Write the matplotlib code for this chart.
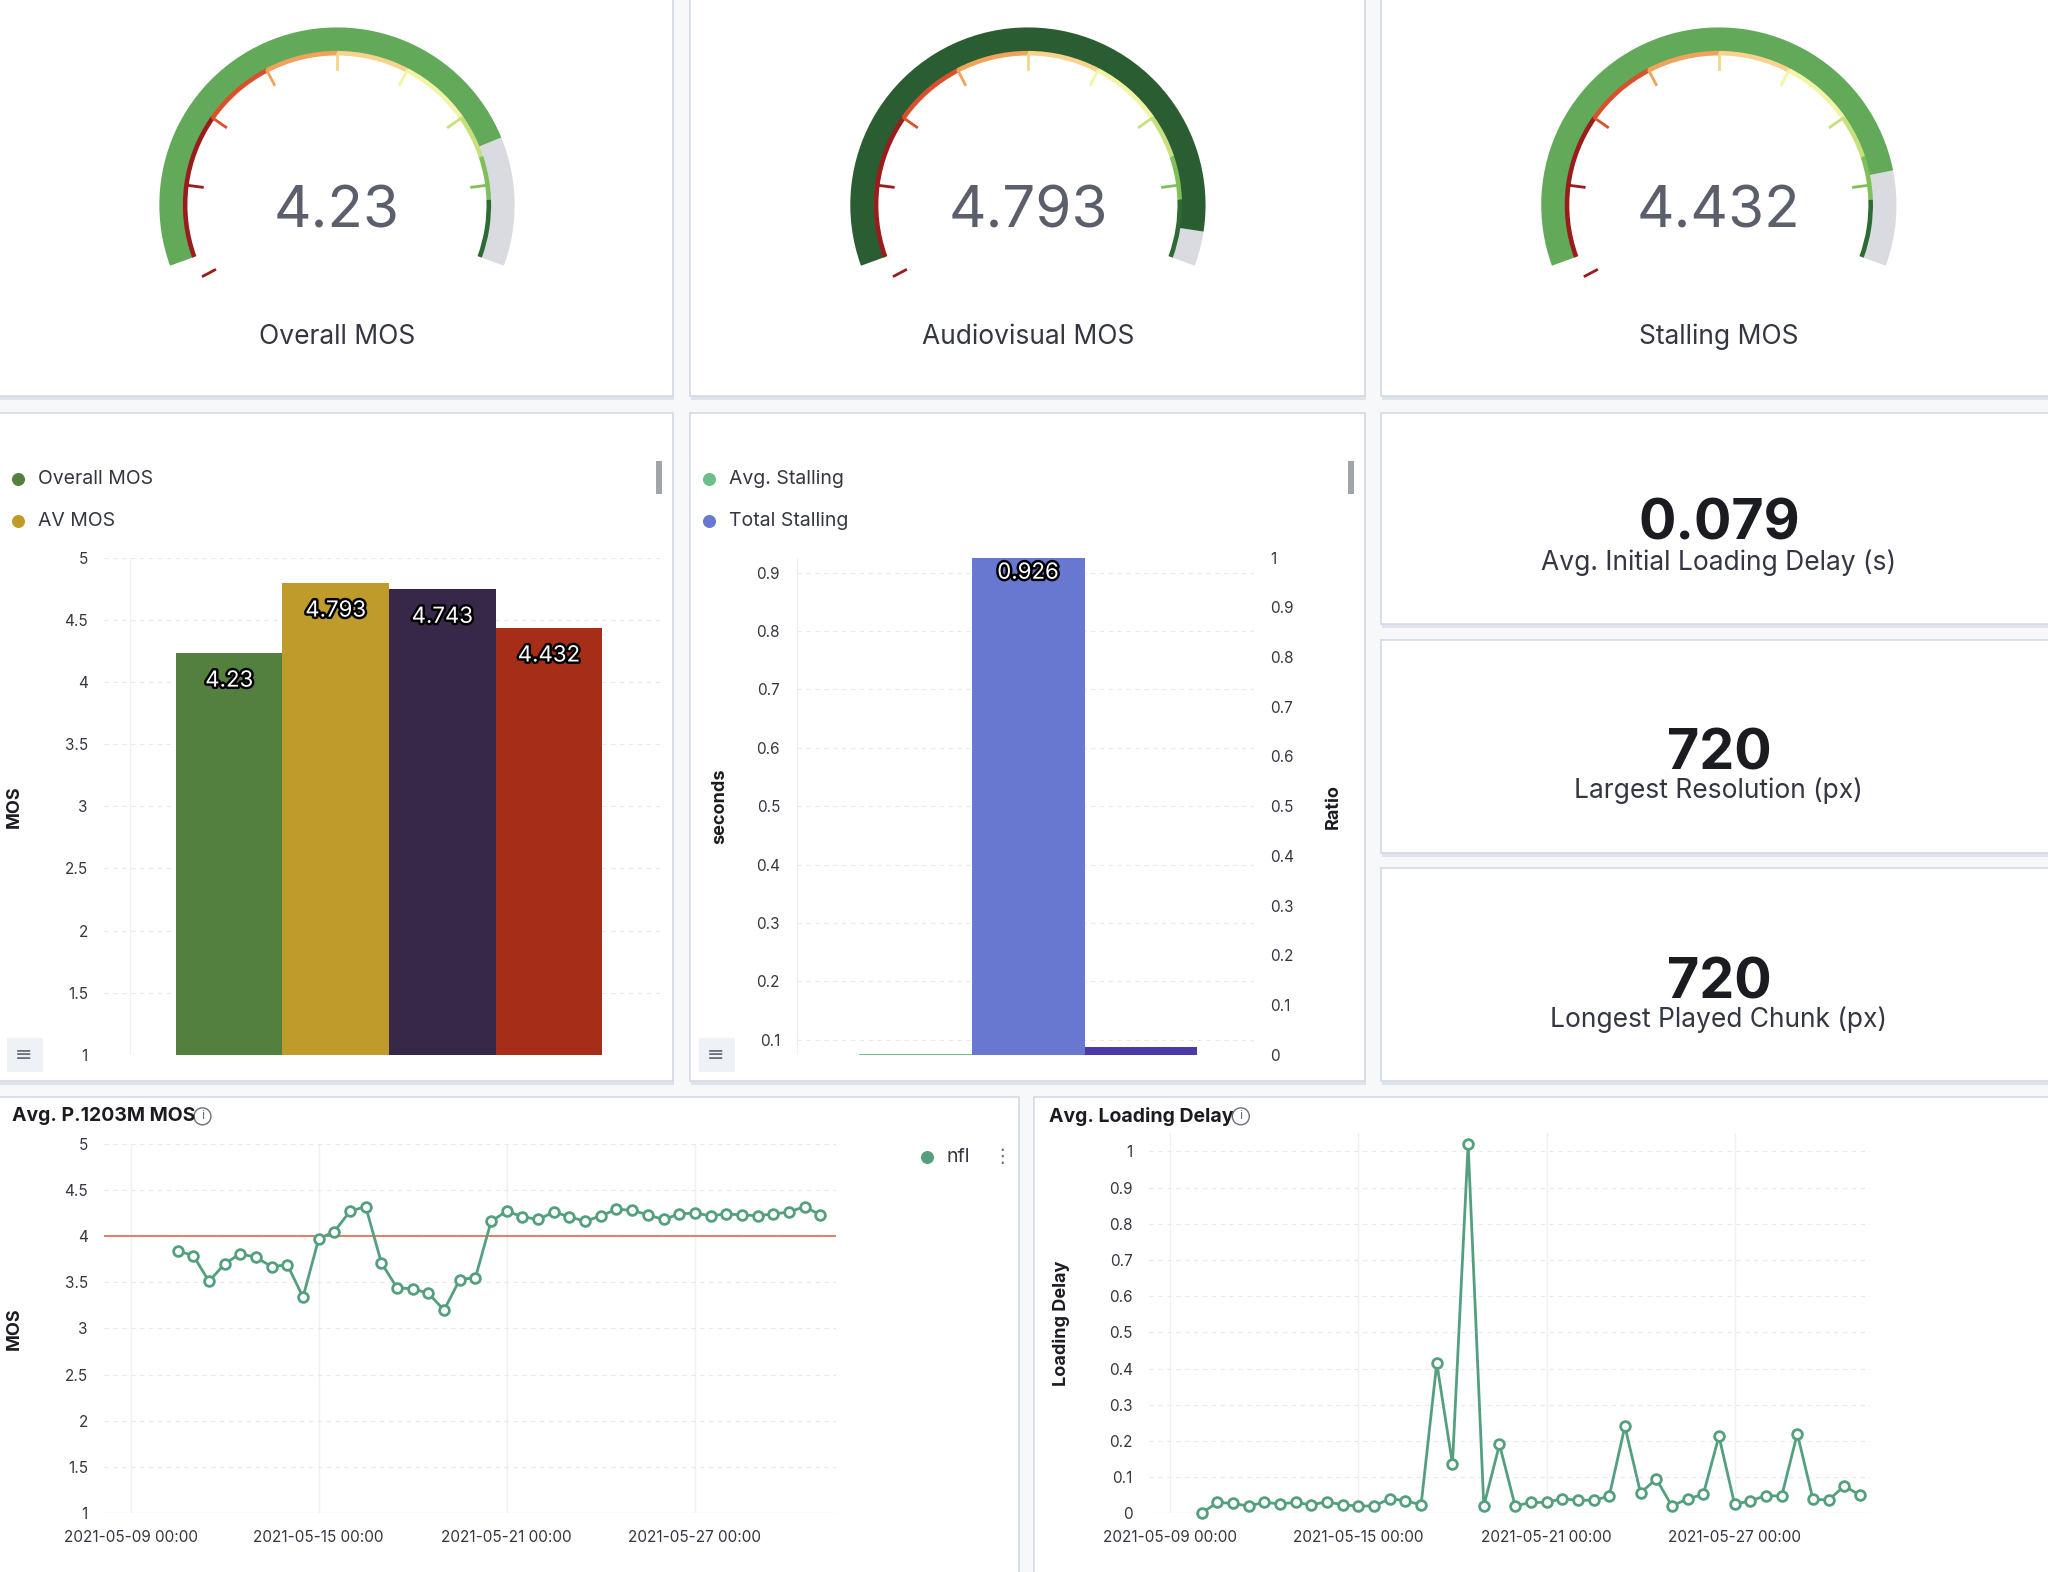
import numpy as np
import matplotlib.pyplot as plt
import matplotlib.patheffects as pe
from matplotlib.patches import Wedge, Rectangle, Circle

# ---- data ----
gauge_titles = ["Overall MOS", "Audiovisual MOS", "Stalling MOS"]
gauge_values = [4.23, 4.793, 4.432]
gauge_labels = ["4.23", "4.793", "4.432"]

mos_bar_values = [4.23, 4.793, 4.743, 4.432]
mos_bar_labels = ["4.23", "4.793", "4.743", "4.432"]
mos_bar_colors = ["#54803f", "#bf9b2b", "#372748", "#a62d17"]

total_stalling_s = 0.926
stall_ratio = 0.016
avg_stalling = 0.002

kpi_values = ["0.079", "720", "720"]
kpi_labels = ["Avg. Initial Loading Delay (s)", "Largest Resolution (px)", "Longest Played Chunk (px)"]

date_ticks = [0, 6, 12, 18]
date_labels = ["2021-05-09 00:00", "2021-05-15 00:00", "2021-05-21 00:00", "2021-05-27 00:00"]

# days since 2021-05-09, 12h steps
mos_days = np.arange(1.5, 22.01, 0.5)
mos_values = [3.84, 3.79, 3.51, 3.70, 3.81, 3.77, 3.67, 3.69, 3.34, 3.97, 4.05, 4.27,
              4.32, 3.71, 3.44, 3.43, 3.38, 3.20, 3.53, 3.55, 4.16, 4.27, 4.21, 4.18,
              4.26, 4.21, 4.16, 4.22, 4.29, 4.28, 4.23, 4.18, 4.24, 4.25, 4.22, 4.24,
              4.23, 4.22, 4.24, 4.26, 4.32, 4.23]
delay_days = np.arange(1.0, 22.01, 0.5)
delay_values = [0.0, 0.03, 0.027, 0.02, 0.03, 0.026, 0.03, 0.023, 0.032, 0.023, 0.02, 0.02,
                0.04, 0.035, 0.023, 0.415, 0.136, 1.02, 0.02, 0.19, 0.02, 0.03, 0.03, 0.04,
                0.036, 0.036, 0.047, 0.24, 0.056, 0.095, 0.02, 0.04, 0.052, 0.213, 0.025,
                0.034, 0.049, 0.047, 0.22, 0.038, 0.037, 0.075, 0.05]

plt.rcParams['font.family'] = ['Inter', 'DejaVu Sans']
W, H = 1568, 1204
fig = plt.figure(figsize=(20.48, 15.72), dpi=100)
fig.patch.set_facecolor("#f7f8fa")
base = fig.add_axes([0, 0, 1, 1])
base.set_xlim(0, W)
base.set_ylim(0, H)
base.axis("off")

def Y(y):
    return H - y

def panel(x0, y0, x1, y1):
    base.add_patch(Rectangle((x0 + 1, Y(y1) - 3), x1 - x0, y1 - y0, color="#dfe3ea", lw=0))
    base.add_patch(Rectangle((x0, Y(y1)), x1 - x0, y1 - y0, facecolor="white",
                             edgecolor="#d3dae6", lw=1.2))

def rect(x0, y0, x1, y1):
    return [x0 / W, 1 - y1 / H, (x1 - x0) / W, (y1 - y0) / H]

panels = [(-5, -5, 515, 303), (528, -5, 1045, 303), (1057, -5, 1575, 303),
          (-5, 316, 515, 828), (528, 316, 1045, 828),
          (1057, 316, 1575, 478), (1057, 490, 1575, 653), (1057, 665, 1575, 828),
          (-5, 840, 780, 1210), (792, 840, 1575, 1210)]
for p in panels:
    panel(*p)

# ---- gauges ----
ring = [(1, 2, "#9b1c1c"), (2, 2.5, "#d9512c"), (2.5, 3, "#f0a35a"), (3, 3.5, "#f7d38e"),
        (3.5, 4, "#f4f4a6"), (4, 4.3, "#c8e07c"), (4.3, 4.6, "#7fbf5a"), (4.6, 5, "#2e6b34")]
fill_colors = ["#62a95a", "#2b5d32", "#62a95a"]

def ang(v):
    return 200 - (v - 1) / 4 * 220

centers = [258, 787, 1316]
for cx, val, lab, title, fc in zip(centers, gauge_values, gauge_labels, gauge_titles, fill_colors):
    cy = Y(157)
    base.add_patch(Wedge((cx, cy), 136, ang(5), ang(val), width=20, color="#d9dbe0", lw=0))
    base.add_patch(Wedge((cx, cy), 136, ang(val), ang(1), width=20, color=fc, lw=0))
    for a, b, c in ring:
        base.add_patch(Wedge((cx, cy), 118, ang(b), ang(a), width=3.5, color=c, lw=0))
    for t in np.arange(1.5, 5.0, 0.5):
        c = [r[2] for r in ring if r[0] <= t < r[1]][0]
        th = np.radians(ang(t))
        base.plot([cx + 116 * np.cos(th), cx + 104 * np.cos(th)],
                  [cy + 116 * np.sin(th), cy + 104 * np.sin(th)], color=c, lw=2)
    th = np.radians(ang(1) + 8)
    base.plot([cx + 116 * np.cos(th), cx + 106 * np.cos(th)],
              [cy + 116 * np.sin(th), cy + 106 * np.sin(th)], color="#9b1c1c", lw=2)
    base.text(cx, cy - 6, lab, ha="center", va="center", fontsize=42, color="#5a5f6b")
    base.text(cx, Y(258), title, ha="center", va="center", fontsize=19, color="#343741")

# ---- KPI boxes ----
for (yv, yl), v, l in zip([(402, 431), (578, 606), (753, 781)], kpi_values, kpi_labels):
    base.text(1316, Y(yv), v, ha="center", va="center", fontsize=40, weight="bold", color="#1a1c21")
    base.text(1316, Y(yl), l, ha="center", va="center", fontsize=19, color="#343741")

def legend_dot(x, y, color, text, fs=14):
    base.scatter([x], [Y(y)], s=70, color=color, zorder=5)
    base.text(x + 15, Y(y), text, va="center", fontsize=fs, color="#343741")

legend_dot(14, 367, "#54803f", "Overall MOS")
legend_dot(14, 399, "#bf9b2b", "AV MOS")
legend_dot(543, 367, "#6dbf8a", "Avg. Stalling")
legend_dot(543, 399, "#6878d0", "Total Stalling")
for x in (505, 1035):
    base.add_patch(Rectangle((x - 3, Y(378)), 5, 25, color="#a0a4ab", lw=0))
for x in (18, 548):
    base.add_patch(Rectangle((x - 13, Y(821)), 28, 26, color="#eef1f6", lw=0))
    base.text(x, Y(808), "\u2261", ha="center", va="center", fontsize=15, color="#69707d")

tick_kw = dict(labelsize=11, colors="#343741", length=0)

def style(ax):
    for s in ax.spines.values():
        s.set_visible(False)
    ax.set_facecolor("none")

label_fx = [pe.withStroke(linewidth=3.5, foreground="black")]

# ---- MOS bar chart ----
ax1 = fig.add_axes(rect(80, 427, 505, 808))
style(ax1)
xs = np.arange(len(mos_bar_values))
ax1.bar(xs, np.array(mos_bar_values) - 1, bottom=1, width=1.0, color=mos_bar_colors)
for x, v, l in zip(xs, mos_bar_values, mos_bar_labels):
    ax1.text(x, v - 0.22, l, ha="center", va="center", fontsize=16, color="white",
             path_effects=label_fx)
ax1.set_xlim(-1.17, 4.04)
ax1.set_ylim(1, 5)
ax1.set_yticks(np.arange(1, 5.01, 0.5), ["1", "1.5", "2", "2.5", "3", "3.5", "4", "4.5", "5"])
ax1.set_xticks([])
ax1.tick_params(axis="y", pad=12, **tick_kw)
ax1.grid(axis="y", color="#e6e9ef", ls=(0, (4, 4)), lw=0.8)
ax1.axvline(-0.93, color="#eef0f3", lw=1)
ax1.set_axisbelow(True)
ax1.set_ylabel("MOS", fontsize=13, weight="bold", color="#1a1c21", labelpad=30)

# ---- stalling chart ----
ax2 = fig.add_axes(rect(610, 427, 960, 808))
style(ax2)
ax2.bar([0], [total_stalling_s], width=1.0, color="#6878d0", zorder=3)
ax2.text(0, 0.9, "0.926", ha="center", va="center", fontsize=16, color="white", zorder=4,
         path_effects=label_fx)
ax2.set_xlim(-2.05, 2.0)
ax2.set_ylim(0.074, 0.926)
ax2.set_yticks(np.arange(0.1, 0.91, 0.1), ["0.1", "0.2", "0.3", "0.4", "0.5", "0.6", "0.7", "0.8", "0.9"])
ax2.set_xticks([])
ax2.tick_params(axis="y", pad=12, **tick_kw)
ax2.grid(axis="y", color="#e6e9ef", ls=(0, (4, 4)), lw=0.8)
ax2.axvline(-2.05, color="#eef0f3", lw=1)
ax2.set_ylabel("seconds", fontsize=13, weight="bold", color="#1a1c21", labelpad=20)
ax2r = ax2.twinx()
style(ax2r)
ax2r.bar([1], [stall_ratio], width=1.0, color="#4a3aa8")
ax2r.bar([-1], [avg_stalling], width=1.0, color="#6dbf8a")
ax2r.set_ylim(0, 1)
ax2r.set_yticks(np.arange(0, 1.01, 0.1), ["0", "0.1", "0.2", "0.3", "0.4", "0.5", "0.6", "0.7", "0.8", "0.9", "1"])
ax2r.tick_params(axis="y", pad=12, **tick_kw)
ax2r.axvline(2.0, color="#eef0f3", lw=1)
ax2r.set_ylabel("Ratio", fontsize=13, weight="bold", color="#1a1c21", labelpad=22)

# ---- bottom line charts ----
green = "#54a07e"

def info_icon(x, y):
    base.add_patch(Circle((x, Y(y)), 6.5, facecolor="white", edgecolor="#69707d", lw=1))
    base.text(x, Y(y), "i", ha="center", va="center", fontsize=9, color="#69707d")

base.text(9, Y(855), "Avg. P.1203M MOS", va="center", fontsize=14, weight="bold", color="#1a1c21")
info_icon(155, 855)
base.text(803, Y(855), "Avg. Loading Delay", va="center", fontsize=14, weight="bold", color="#1a1c21")
info_icon(950, 855)
legend_dot(710, 886, green, "nfl")
base.text(767, Y(886), "\u22ee", ha="center", va="center", fontsize=14, color="#69707d")

ax3 = fig.add_axes(rect(80, 876, 640, 1159))
style(ax3)
ax3.plot(mos_days, mos_values, color=green, lw=2, marker="o", ms=7, mfc="white", mew=2, zorder=4)
ax3.axhline(4, color="#e7664c", lw=1.2, zorder=3)
ax3.set_xlim(-20 / 24, 22.5)
ax3.set_ylim(1, 5)
ax3.set_yticks(np.arange(1, 5.01, 0.5), ["1", "1.5", "2", "2.5", "3", "3.5", "4", "4.5", "5"])
ax3.set_xticks(date_ticks, date_labels)
ax3.tick_params(axis="both", pad=12, **tick_kw)
ax3.grid(axis="y", color="#e6e9ef", ls=(0, (4, 4)), lw=0.8)
ax3.grid(axis="x", color="#eef0f3", lw=1)
ax3.axhline(1, color="#eef0f3", lw=1)
ax3.set_ylabel("MOS", fontsize=13, weight="bold", color="#1a1c21", labelpad=30)

ax4 = fig.add_axes(rect(880, 868, 1432, 1159))
style(ax4)
ax4.plot(delay_days, delay_values, color=green, lw=2, marker="o", ms=7, mfc="white", mew=2, zorder=4, clip_on=False)
ax4.set_xlim(-16 / 24, 22.33)
ax4.set_ylim(0, 1.05)
ax4.set_yticks(np.arange(0, 1.01, 0.1), ["0", "0.1", "0.2", "0.3", "0.4", "0.5", "0.6", "0.7", "0.8", "0.9", "1"])
ax4.set_xticks(date_ticks, date_labels)
ax4.tick_params(axis="both", pad=12, **tick_kw)
ax4.grid(axis="y", color="#e6e9ef", ls=(0, (4, 4)), lw=0.8)
ax4.grid(axis="x", color="#eef0f3", lw=1)
ax4.axhline(0, color="#eef0f3", lw=1)
ax4.set_ylabel("Loading Delay", fontsize=13, weight="bold", color="#1a1c21", labelpad=28)

fig.savefig("out.png", dpi=100, facecolor=fig.get_facecolor())
